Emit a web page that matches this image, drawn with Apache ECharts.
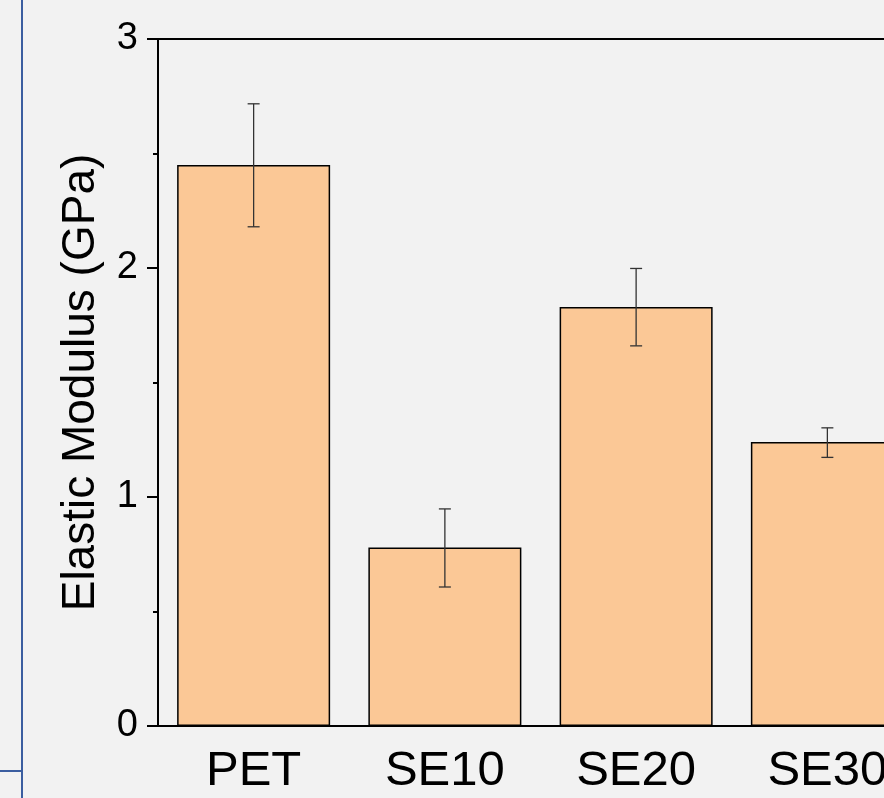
<!DOCTYPE html>
<html>
<head>
<meta charset="utf-8">
<script src="https://cdn.jsdelivr.net/npm/echarts@6/dist/echarts.min.js"></script>
<style>
html,body{margin:0;padding:0;background:#f2f2f2;overflow:hidden;width:884px;height:798px;}
#c{width:923px;height:798px;}
</style>
</head>
<body>
<div id="c"></div>
<script>
const categories = ['PET', 'SE10', 'SE20', 'SE30'];
const modulus = [2.45, 0.78, 1.83, 1.24];
const errLow = [2.18, 0.607, 1.66, 1.173];
const errHigh = [2.717, 0.948, 1.998, 1.302];
const yTicks = [0, 1, 2, 3];

const FONT = '"Liberation Sans", Arial, sans-serif';
const chart = echarts.init(document.getElementById('c'));

const errData = categories.map((c, i) => [i, errLow[i], errHigh[i]]);

chart.setOption({
  backgroundColor: '#f2f2f2',
  animation: false,
  grid: {left: 158, top: 39, bottom: 72, right: 0, show: true, borderColor: '#000', borderWidth: 2, backgroundColor: 'transparent'},
  xAxis: [{
    type: 'category', data: categories, position: 'bottom',
    axisLine: {lineStyle: {color: '#000', width: 2}},
    axisTick: {alignWithLabel: true, length: 12, lineStyle: {color: '#000', width: 2}},
    axisLabel: {color: '#000', fontSize: 49, fontFamily: FONT, margin: 21},
    splitLine: {show: false}
  }, {
    type: 'category', data: categories, position: 'bottom', offset: 0,
    axisLine: {show: false},
    axisTick: {length: 5, lineStyle: {color: '#000', width: 2}},
    axisLabel: {show: false},
    splitLine: {show: false}
  }],
  yAxis: {
    type: 'value', min: yTicks[0], max: yTicks[yTicks.length - 1], interval: 1,
    name: 'Elastic Modulus (GPa)', nameLocation: 'middle', nameGap: 54, nameRotate: 90,
    nameTextStyle: {color: '#000', fontSize: 46, fontFamily: FONT},
    axisLine: {show: true, lineStyle: {color: '#000', width: 2}},
    axisTick: {show: true, length: 11, lineStyle: {color: '#000', width: 2}},
    minorTick: {show: true, splitNumber: 2, length: 5, lineStyle: {color: '#000', width: 2}},
    axisLabel: {color: '#000', fontSize: 38, fontFamily: FONT, margin: 20},
    splitLine: {show: false}
  },
  series: [{
    type: 'bar', data: modulus, barWidth: '80%', xAxisIndex: 0,
    itemStyle: {color: '#fbc896', borderColor: '#000', borderWidth: 1.5}
  }, {
    type: 'custom', xAxisIndex: 0, data: errData, z: 5,
    renderItem: function (params, api) {
      const x = api.coord([api.value(0), api.value(1)])[0];
      const lo = api.coord([api.value(0), api.value(1)])[1];
      const hi = api.coord([api.value(0), api.value(2)])[1];
      const w = 6;
      const st = {stroke: '#333', lineWidth: 1.3};
      return {type: 'group', children: [
        {type: 'line', shape: {x1: x, y1: lo, x2: x, y2: hi}, style: st},
        {type: 'line', shape: {x1: x - w, y1: lo, x2: x + w, y2: lo}, style: st},
        {type: 'line', shape: {x1: x - w, y1: hi, x2: x + w, y2: hi}, style: st}
      ]};
    }
  }],
  graphic: [
    {type: 'line', shape: {x1: 22, y1: 0, x2: 22, y2: 798}, style: {stroke: '#3b5ea0', lineWidth: 2}},
    {type: 'line', shape: {x1: 0, y1: 771, x2: 22, y2: 771}, style: {stroke: '#3b5ea0', lineWidth: 2}}
  ]
});
</script>
</body>
</html>
